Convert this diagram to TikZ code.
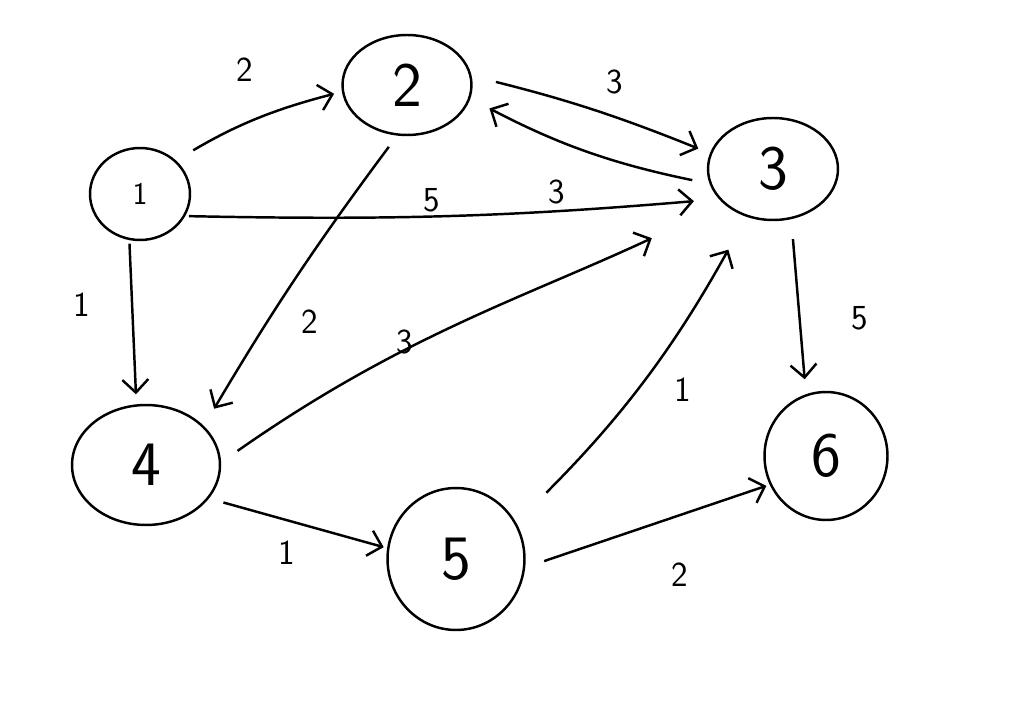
\documentclass[tikz,border=0pt]{standalone}
\usepackage{tikz}
\usetikzlibrary{arrows.meta,shapes.geometric}
\tikzset{>={Straight Barb[length=2.6mm,width=5.2mm]},
  vert/.style={draw, ellipse, line width=1.4pt, inner sep=0pt, font=\sffamily\fontsize{36}{38}\selectfont},
  wt/.style={font=\sffamily\fontsize{20}{22}\selectfont},
  link/.style={->, line width=1.4pt}}

\begin{document}
\begin{tikzpicture}[x=0.02cm, y=-0.02cm]
\useasboundingbox (0,0) rectangle (1018,726);
\node[vert, minimum width=2.0cm,  minimum height=1.84cm, font=\sffamily\fontsize{18}{20}\selectfont] (n1) at (140,194) {1};
\node[vert, minimum width=2.58cm, minimum height=2.0cm]  (n2) at (407,85)  {2};
\node[vert, minimum width=2.6cm,  minimum height=2.04cm] (n3) at (773,169) {3};
\node[vert, minimum width=2.96cm, minimum height=2.4cm]  (n4) at (146,465) {4};
\node[vert, minimum width=2.74cm, minimum height=2.84cm] (n5) at (456,559) {5};
\node[vert, minimum width=2.46cm, minimum height=2.56cm] (n6) at (826,456) {6};

\draw[link, shorten <=0.4cm, shorten >=0.16cm] (n1.43) to[bend left=8] (n2.186);
\draw[link, shorten <=0.5cm, shorten >=0.25cm] (n2.8) to[bend left=4] (n3.166);
\draw[link, shorten <=0.35cm, shorten >=0.43cm] (n3.193) to[bend left=8] (n2.-12);
\draw[link, shorten <=2pt, shorten >=0.5cm] (n1.-26) to[bend right=3] (n3.209);
\draw[link, shorten <=2pt, shorten >=0.2cm] (n1.-103) -- (n4.99);
\draw[link, shorten <=0.28cm, shorten >=0.4cm] (n2.-101) to[bend right=3] (n4.34);
\draw[link, shorten <=0.4cm, shorten >=1.6cm] (n4.2) to[out=35, in=205] (n3.216);
\draw[link, shorten <=0.3cm, shorten >=2pt] (n4.-28) -- (n5.171);
\draw[link, shorten <=0.85cm, shorten >=0.75cm] (n5.31) to[bend right=8] (n3.241);
\draw[link, shorten <=0.4cm, shorten >=2pt] (n5.-7) -- (n6.207);
\draw[link, shorten <=0.4cm, shorten >=0.3cm] (n3.-70) -- (n6.108);

\node[wt] (w12) at (245,70)  {2};
\node[wt] (w23) at (615,82)  {3};
\node[wt] (w32) at (557,192) {3};
\node[wt] (w13) at (432,200) {5};
\node[wt] (w14) at (82,305)  {1};
\node[wt] (w24) at (310,322) {2};
\node[wt] (w43) at (405,342) {3};
\node[wt] (w45) at (287,553) {1};
\node[wt] (w53) at (683,390) {1};
\node[wt] (w56) at (680,575) {2};
\node[wt] (w36) at (860,318) {5};
\end{tikzpicture}
\end{document}
